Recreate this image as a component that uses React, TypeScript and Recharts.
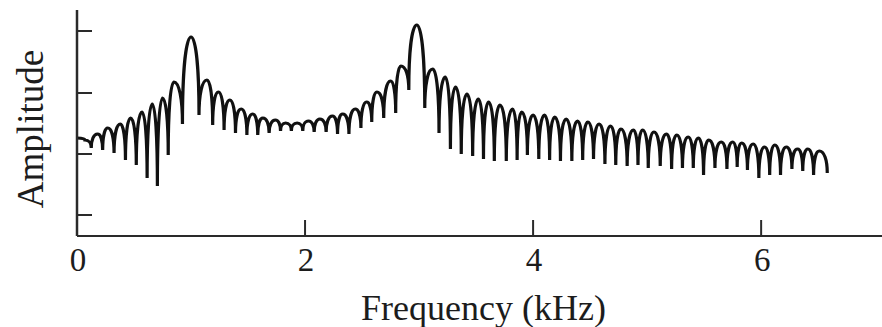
import { LineChart, Line, XAxis, YAxis } from 'recharts'

// harmonic peaks (kHz, amplitude in arbitrary units)
const peakKHz = [
  0.07, 0.18, 0.27, 0.38, 0.47, 0.57, 0.66, 0.75, 0.85, 1.0,
  1.14, 1.24, 1.34, 1.44, 1.54, 1.63, 1.74, 1.83, 1.93, 2.03,
  2.13, 2.24, 2.33, 2.44, 2.54, 2.63, 2.75, 2.84, 2.98, 3.12,
  3.23, 3.32, 3.42, 3.52, 3.61, 3.71, 3.82, 3.9, 4.0, 4.1,
  4.19, 4.29, 4.39, 4.48, 4.58, 4.68, 4.77, 4.88, 4.96, 5.06,
  5.17, 5.26, 5.36, 5.45, 5.54, 5.65, 5.75, 5.83, 5.93, 6.03,
  6.12, 6.22, 6.32, 6.41, 6.51,
]
const peakAmp = [
  96, 102, 108, 112, 118, 124, 132, 138, 154, 199,
  156, 144, 136, 127, 122, 118, 116, 113, 113, 115,
  117, 120, 122, 127, 134, 144, 155, 170, 211, 167,
  159, 149, 142, 137, 134, 131, 127, 124, 121, 121,
  119, 117, 115, 114, 112, 110, 107, 106, 106, 104,
  102, 101, 99, 98, 96, 94, 94, 93, 92, 89,
  91, 89, 87, 87, 85,
]
// troughs between neighbouring harmonics
const dipAmp = [
  88, 86, 83, 76, 71, 58, 50, 81, 112, 121,
  111, 106, 103, 101, 101, 103, 105, 105, 105, 104,
  104, 102, 102, 108, 114, 118, 123, 146, 128, 103,
  87, 82, 80, 77, 75, 75, 76, 81, 77, 76,
  75, 75, 76, 77, 72, 71, 70, 71, 68, 70,
  67, 68, 68, 61, 68, 67, 69, 66, 58, 61,
  61, 67, 65, 61,
]
const startAmp = 98
const endKHz = 6.58
const endAmp = 63

const freqTicks = [0, 2, 4, 6]
const ampTicks = [21, 82, 143, 205]

const INK = '#1c1c1c'
const AXIS = '#2a2a2a'
const FONT = '"Liberation Serif", "Times New Roman", serif'

const data: { f: number; a: number }[] = [{ f: 0, a: startAmp }]
peakKHz.forEach((f, i) => {
  data.push({ f, a: peakAmp[i] })
  if (i < dipAmp.length) {
    data.push({ f: (f + peakKHz[i + 1]) / 2, a: dipAmp[i] })
  }
})
data.push({ f: endKHz, a: endAmp })

// rounded tops, pinched troughs: each half-arch is a quarter ellipse
const archCurve = (context: any) => {
  let pts: number[][] = []
  return {
    areaStart() {},
    areaEnd() {},
    lineStart() {
      pts = []
    },
    point(x: number, y: number) {
      pts.push([+x, +y])
    },
    lineEnd() {
      if (!pts.length) return
      const k = 0.6
      context.moveTo(pts[0][0], pts[0][1])
      for (let i = 1; i < pts.length; i++) {
        const [x0, y0] = pts[i - 1]
        const [x1, y1] = pts[i]
        if (y1 > y0) {
          context.bezierCurveTo(x0 + k * (x1 - x0), y0, x1, y1 - k * (y1 - y0), x1, y1)
        } else {
          context.bezierCurveTo(x0, y0 + k * (y1 - y0), x1 - k * (x1 - x0), y1, x1, y1)
        }
      }
    },
  }
}

const FreqTick = (props: any) => {
  const { x, y, payload } = props
  return (
    <g>
      <line x1={x} x2={x} y1={y} y2={y - 16} stroke={AXIS} strokeWidth={2} />
      <text x={x + 1} y={y + 35} textAnchor="middle" fontFamily={FONT} fontSize={33} fill={INK}>
        {payload.value}
      </text>
    </g>
  )
}

const NoLabel = () => <g />

const FreqLabel = (props: any) => {
  const { viewBox } = props
  return (
    <text
      x={viewBox.x + viewBox.width / 2 + 4}
      y={viewBox.y + 84}
      textAnchor="middle"
      fontFamily={FONT}
      fontSize={36}
      fill={INK}
    >
      Frequency (kHz)
    </text>
  )
}

const AmpLabel = (props: any) => {
  const { viewBox } = props
  const cy = viewBox.y + viewBox.height / 2 + 6
  return (
    <text
      transform={`translate(43 ${cy}) rotate(-90)`}
      x={0}
      y={0}
      textAnchor="middle"
      fontFamily={FONT}
      fontSize={37}
      fill={INK}
    >
      Amplitude
    </text>
  )
}

export default function App() {
  return (
    <div style={{ position: 'absolute', left: 0, top: 0, width: 882, height: 327, background: '#fff' }}>
      <LineChart width={882} height={327} data={data} margin={{ top: 10, right: 0, bottom: 0, left: 77 }}>
        <XAxis
          dataKey="f"
          type="number"
          domain={[0, 7.06]}
          ticks={freqTicks}
          height={91}
          tickSize={0}
          tickMargin={0}
          tickLine={false}
          tick={<FreqTick />}
          axisLine={{ stroke: AXIS, strokeWidth: 2 }}
          label={FreqLabel}
        />
        <YAxis
          type="number"
          domain={[0, 226]}
          ticks={ampTicks}
          mirror
          tick={<NoLabel />}
          tickSize={15}
          tickLine={{ stroke: AXIS, strokeWidth: 2 }}
          axisLine={{ stroke: AXIS, strokeWidth: 2.5 }}
          label={AmpLabel}
        />
        <Line
          dataKey="a"
          type={archCurve as any}
          stroke="#111"
          strokeWidth={3.2}
          dot={false}
          isAnimationActive={false}
        />
      </LineChart>
    </div>
  )
}
